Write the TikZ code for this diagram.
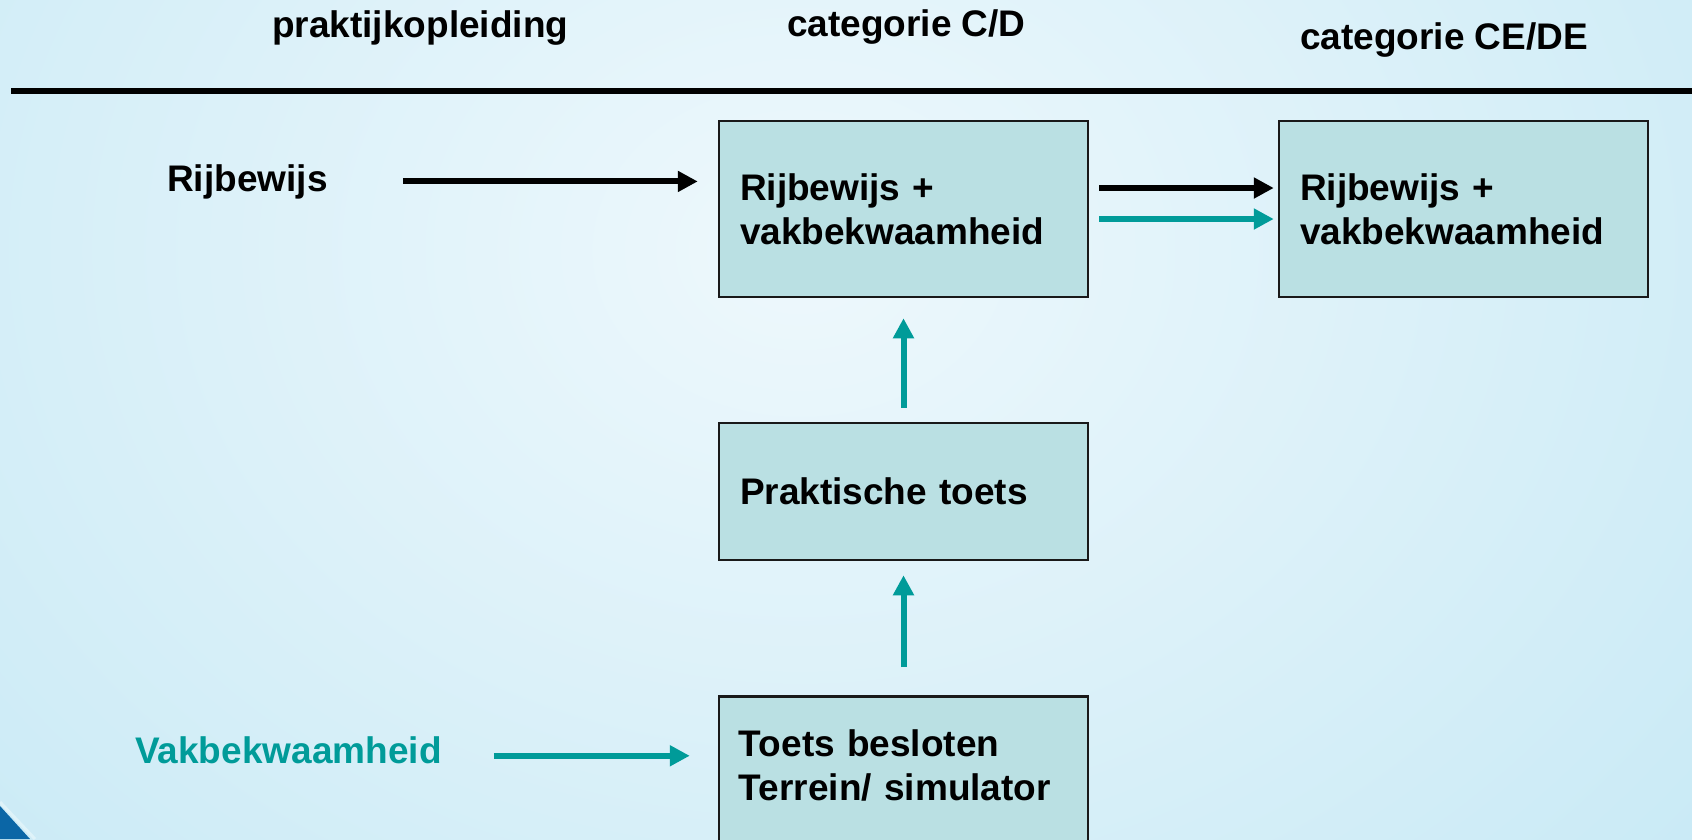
\documentclass[tikz,border=0pt]{standalone}
\usepackage{fontspec}
\setmainfont{Liberation Sans}
\usepackage{xcolor}
\usetikzlibrary{arrows.meta}
\definecolor{bgblauw}{HTML}{BFE6F4}
\definecolor{bglicht}{HTML}{EEF8FC}
\definecolor{vakgroen}{HTML}{009B99}
\definecolor{vulkleur}{HTML}{BAE0E3}
\definecolor{hoekblauw}{HTML}{0B66A6}

\begin{document}
\begin{tikzpicture}
        [x=1pt,y=-1pt,every node/.style={font=\fontsize{37}{44}\selectfont\bfseries,inner sep=0pt},
         vak/.style={draw=black!90,line width=2.5pt,fill=vulkleur,minimum width=369pt,
           text width=327pt,inner xsep=21pt,align=left},
         zwart/.style={line width=6pt,-{Triangle[length=20pt,width=20pt]}},
         groen/.style={zwart,draw=vakgroen}]
        \clip (0,0) rectangle (1692,839);
        \shade[inner color=bglicht,outer color=bgblauw] (-700,-950) rectangle (2300,1450);
        \fill[hoekblauw] (0,806) -- (30,839) -- (0,839) -- cycle;
        \draw[white!50!bgblauw,line width=3pt] (0,802) -- (35,839);

        \node[anchor=base west] (prak) at (272,37) {praktijkopleiding};
        \node[anchor=base west] (catcd) at (787,36) {categorie C/D};
        \node[anchor=base west] (catce) at (1300,49) {categorie CE/DE};
        \draw[line width=6pt] (11,91) -- (1692,91);

        \node[anchor=base west] (rij) at (167,191) {Rijbewijs};
        \node[anchor=base west,text=vakgroen] (vakb) at (135,763) {Vakbekwaamheid};

        \node[vak,minimum height=176pt] (rijvak) at (903.5,209) {Rijbewijs +\\vakbekwaamheid};
        \node[vak,minimum height=176pt] (rijvakce) at (1463.5,209) {Rijbewijs +\\vakbekwaamheid};
        \node[vak,minimum height=137pt] (toets) at (903.5,491.5) {Praktische toets};
        \node[vak,minimum height=176pt,anchor=north] (besloten) at (903.5,695) {};
        \node[anchor=north west,text width=327pt,align=left] (beslotentekst)
          at ([xshift=21pt,yshift=-34pt]besloten.north west) {Toets besloten\\Terrein/ simulator};

        \draw[zwart,shorten <=75pt,shorten >=20pt] (rij.east) -- (rij.east -| rijvak.west);
        \draw[groen,shorten <=52pt,shorten >=28pt] ([yshift=-6pt]vakb.east) -- ([yshift=-6pt]vakb.east -| besloten.west);
        \draw[groen,shorten <=28pt,shorten >=14pt] (besloten.north) -- (toets.south);
        \draw[groen,shorten <=14pt,shorten >=20pt] (toets.north) -- (rijvak.south);
        \draw[zwart,shorten <=10pt,shorten >=4pt] ([yshift=21pt]rijvak.east) -- ([yshift=21pt]rijvakce.west);
        \draw[groen,shorten <=10pt,shorten >=4pt] ([yshift=-10pt]rijvak.east) -- ([yshift=-10pt]rijvakce.west);
    \end{tikzpicture}
\end{document}
